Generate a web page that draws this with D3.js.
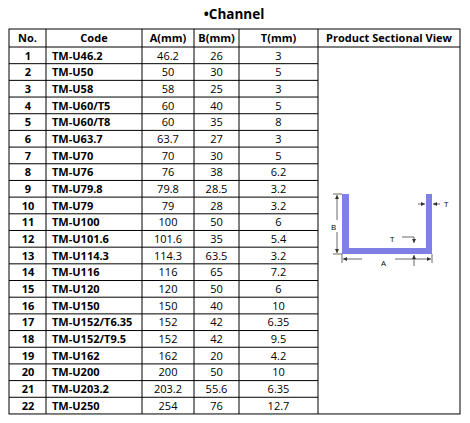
<!DOCTYPE html>
<html>
<head>
<meta charset="utf-8">
<script src="https://d3js.org/d3.v7.min.js"></script>
<style>
  body { margin: 0; background: #fff; }
  text { font-family: "Open Sans", "Liberation Sans", sans-serif; }
</style>
</head>
<body>
<svg id="chart" width="470" height="423"></svg>
<script>
// table data
var headers = ["No.", "Code", "A(mm)", "B(mm)", "T(mm)", "Product Sectional View"];
var codes = ["TM-U46.2","TM-U50","TM-U58","TM-U60/T5","TM-U60/T8","TM-U63.7","TM-U70","TM-U76","TM-U79.8","TM-U79","TM-U100","TM-U101.6","TM-U114.3","TM-U116","TM-U120","TM-U150","TM-U152/T6.35","TM-U152/T9.5","TM-U162","TM-U200","TM-U203.2","TM-U250"];
var aVals = ["46.2","50","58","60","60","63.7","70","76","79.8","79","100","101.6","114.3","116","120","150","152","152","162","200","203.2","254"];
var bVals = ["26","30","25","40","35","27","30","38","28.5","28","50","35","63.5","65","50","40","42","42","20","50","55.6","76"];
var tVals = ["3","5","3","5","8","3","5","6.2","3.2","3.2","6","5.4","3.2","7.2","6","10","6.35","9.5","4.2","10","6.35","12.7"];

var svg = d3.select("#chart");
var colEdges = [9, 46, 142, 194, 239, 318, 460];
var tableTop = 29, headH = 18, rowH = 16.68;
var n = codes.length;
var y = d3.scaleLinear().domain([0, n]).range([tableTop + headH, tableTop + headH + n * rowH]);
var tableBottom = y(n);

svg.append("text").attr("x", 234).attr("y", 19).attr("text-anchor", "middle")
  .attr("font-size", 13.5).attr("font-weight", "bold").text("\u2022Channel");

var g = svg.append("g").attr("stroke", "#000").attr("stroke-width", 1).attr("fill", "none");
g.append("rect").attr("x", colEdges[0]).attr("y", tableTop).attr("width", colEdges[6] - colEdges[0]).attr("height", tableBottom - tableTop);
colEdges.slice(1, 6).forEach(function (x) {
  g.append("line").attr("x1", x).attr("x2", x).attr("y1", tableTop).attr("y2", tableBottom);
});
g.append("line").attr("x1", colEdges[0]).attr("x2", colEdges[6]).attr("y1", y(0)).attr("y2", y(0));
d3.range(1, n).forEach(function (i) {
  g.append("line").attr("x1", colEdges[0]).attr("x2", colEdges[5]).attr("y1", y(i)).attr("y2", y(i));
});

// header text
headers.forEach(function (h, i) {
  svg.append("text").attr("x", (colEdges[i] + colEdges[i + 1]) / 2).attr("y", tableTop + 13)
    .attr("text-anchor", "middle").attr("font-size", 11).attr("font-weight", "bold").text(h);
});

// rows
codes.forEach(function (c, i) {
  var ty = y(i) + 12.5;
  svg.append("text").attr("x", 28).attr("y", ty).attr("text-anchor", "middle")
    .attr("font-size", 11).attr("font-weight", "bold").text(i + 1);
  svg.append("text").attr("x", 52).attr("y", ty)
    .attr("font-size", 11).attr("font-weight", "bold").text(c);
  [aVals[i], bVals[i], tVals[i]].forEach(function (v, k) {
    svg.append("text").attr("x", (colEdges[k + 2] + colEdges[k + 3]) / 2).attr("y", ty)
      .attr("text-anchor", "middle").attr("font-size", 11).text(v);
  });
});

// sectional view
var blue = "#7f7fe6";
var d = svg.append("g");
d.append("path").attr("fill", blue)
  .attr("d", "M342,194 H349 V248 H426 V194 H432 V254 H342 Z");
var dim = d.append("g").attr("stroke", "#444").attr("stroke-width", 0.8).attr("fill", "none");
svg.append("defs").append("marker").attr("id", "ar").attr("viewBox", "0 0 6 6").attr("refX", 6).attr("refY", 3)
  .attr("markerWidth", 5).attr("markerHeight", 5).attr("orient", "auto")
  .append("path").attr("d", "M0,0 L6,3 L0,6 Z").attr("fill", "#333");
function arrow(x1, y1, x2, y2) {
  dim.append("line").attr("x1", x1).attr("y1", y1).attr("x2", x2).attr("y2", y2).attr("marker-end", "url(#ar)");
}
// B
dim.append("line").attr("x1", 333).attr("x2", 342).attr("y1", 194).attr("y2", 194);
dim.append("line").attr("x1", 333).attr("x2", 342).attr("y1", 254).attr("y2", 254);
arrow(337, 220, 337, 195); arrow(337, 232, 337, 253);
// A
dim.append("line").attr("x1", 342).attr("x2", 342).attr("y1", 254).attr("y2", 263);
dim.append("line").attr("x1", 432).attr("x2", 432).attr("y1", 254).attr("y2", 263);
arrow(362, 259, 343, 259); arrow(395, 259, 431, 259);
// T right
arrow(418, 204, 425, 204); arrow(440, 204, 433, 204);
// T bottom
dim.append("polyline").attr("points", "402,237 414,237 414,243").attr("marker-end", "url(#ar)");
arrow(414, 266, 414, 255);
var lab = [["B", 331, 230], ["A", 381, 266], ["T", 444, 207], ["T", 390, 242]];
lab.forEach(function (l) {
  svg.append("text").attr("x", l[1]).attr("y", l[2]).attr("font-size", 8).attr("font-family", "Liberation Serif").text(l[0]);
});
</script>
</body>
</html>
